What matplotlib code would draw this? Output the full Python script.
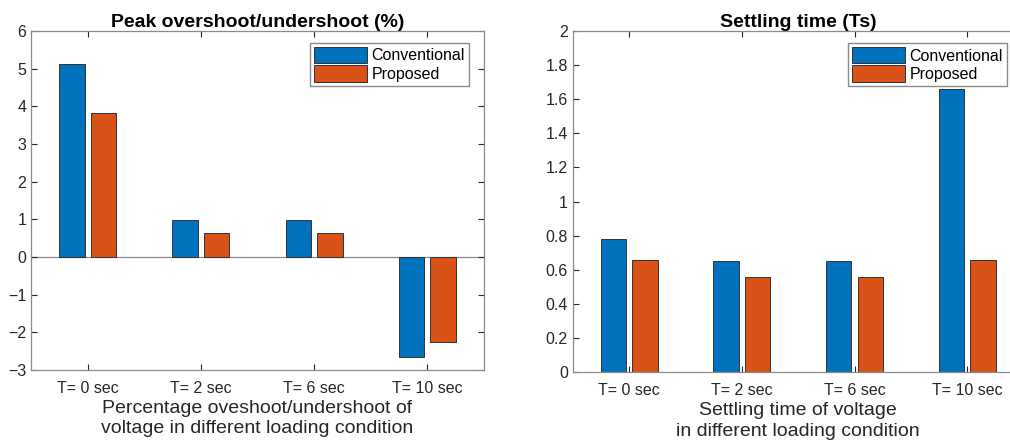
import numpy as np
from matplotlib import pyplot as plt

plt.rcParams['font.family'] = ['Liberation Sans', 'DejaVu Sans']

categories = ['T= 0 sec', 'T= 2 sec', 'T= 6 sec', 'T= 10 sec']
overshoot_conventional = [5.12, 0.97, 0.98, -2.67]
overshoot_proposed = [3.83, 0.64, 0.64, -2.25]
settling_conventional = [0.78, 0.65, 0.65, 1.66]
settling_proposed = [0.66, 0.56, 0.56, 0.66]

blue = '#0072BD'
orange = '#D95319'
gray = '#262626'

fig = plt.figure(figsize=(10.1, 4.43), dpi=100)
ax1 = fig.add_axes([0.0307, 0.165, 0.4485, 0.765])
ax2 = fig.add_axes([0.567, 0.160, 0.4465, 0.770])

x = np.arange(1, len(categories) + 1)
w = 0.225
off = 0.14

legend_kw = dict(loc='upper right', fontsize=11.5, handlelength=3.3, handleheight=1.2,
                 fancybox=False, edgecolor='#8a8a8a', framealpha=1, borderpad=0.25,
                 labelspacing=0.12, handletextpad=0.3, borderaxespad=0)


def style(ax):
    ax.set_xlim(0.5, 4.5)
    ax.set_xticks(x)
    ax.set_xticklabels(categories)
    ax.tick_params(direction='in', top=True, right=True, length=4, width=0.8,
                   colors=gray, labelsize=11.5, labelcolor=gray)
    ax.tick_params(axis='x', pad=8)
    for s in ax.spines.values():
        s.set_color('#8a8a8a')
        s.set_linewidth(0.9)


# left: peak overshoot/undershoot
ax1.bar(x - off, overshoot_conventional, w, color=blue, edgecolor='#333333', linewidth=0.7, label='Conventional')
ax1.bar(x + off, overshoot_proposed, w, color=orange, edgecolor='#333333', linewidth=0.7, label='Proposed')
ax1.axhline(0, color='#8a8a8a', linewidth=0.9, zorder=0)
ax1.set_ylim(-3, 6)
ax1.set_yticks(np.arange(-3, 7, 1))
style(ax1)
ax1.set_title('Peak overshoot/undershoot (%)', fontsize=14, fontweight='bold', pad=3)
ax1.set_xlabel('Percentage oveshoot/undershoot of\nvoltage in different loading condition',
               fontsize=14, color=gray, labelpad=3, linespacing=1.25)
ax1.legend(bbox_to_anchor=(0.967, 0.965), **legend_kw)

# right: settling time
ax2.bar(x - off, settling_conventional, w, color=blue, edgecolor='#333333', linewidth=0.7, label='Conventional')
ax2.bar(x + off, settling_proposed, w, color=orange, edgecolor='#333333', linewidth=0.7, label='Proposed')
ax2.set_ylim(0, 2)
ax2.set_yticks(np.arange(0, 2.01, 0.2))
ax2.set_yticklabels(['0', '0.2', '0.4', '0.6', '0.8', '1', '1.2', '1.4', '1.6', '1.8', '2'])
style(ax2)
ax2.set_title('Settling time (Ts)', fontsize=14, fontweight='bold', pad=3)
ax2.set_xlabel('Settling time of voltage\nin different loading condition',
               fontsize=14, color=gray, labelpad=3, linespacing=1.25)
ax2.legend(bbox_to_anchor=(0.997, 0.903), bbox_transform=fig.transFigure, **legend_kw)

fig.savefig('out.png', dpi=100)
